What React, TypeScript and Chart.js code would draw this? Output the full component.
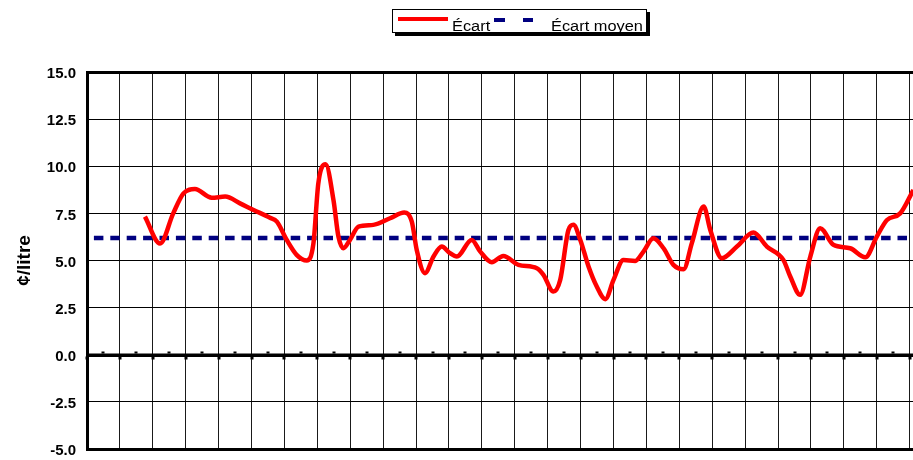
import React, { useEffect, useRef } from "react";
import { Chart, registerables } from "chart.js";

Chart.register(...registerables);

// Écart series: position along the (unlabelled) horizontal axis, in grid intervals
const ecartX = [
  1.76, 2.22, 2.62, 2.93, 3.28, 3.79, 4.2, 4.65, 5.06, 5.56, 5.77, 6.07, 6.37, 6.68,
  6.88, 7.03, 7.25, 7.49, 7.64, 7.79, 7.99, 8.25, 8.7, 9.21, 9.64, 9.87, 10.02, 10.27,
  10.53, 10.78, 11.03, 11.24, 11.69, 11.95, 12.3, 12.65, 13.11, 13.67, 13.87, 14.17,
  14.38, 14.63, 14.78, 14.99, 15.24, 15.49, 15.75, 16.0, 16.3, 16.66, 16.91, 17.21,
  17.52, 17.82, 18.13, 18.38, 18.74, 18.94, 19.29, 19.75, 20.25, 20.66, 21.16, 21.37,
  21.67, 21.98, 22.28, 22.68, 23.19, 23.65, 24.0, 24.31, 24.71, 25.11,
];
// Écart series values (¢/litre)
const ecartY = [
  7.33, 5.9, 7.5, 8.56, 8.79, 8.33, 8.39, 8.03, 7.68, 7.27, 7.06, 6.09, 5.3, 5.0,
  5.9, 9.1, 10.1, 8.2, 6.27, 5.65, 6.09, 6.8, 6.89, 7.24, 7.54, 7.06, 5.56, 4.33,
  5.21, 5.74, 5.39, 5.21, 6.09, 5.47, 4.91, 5.24, 4.77, 4.59, 4.24, 3.35,
  3.97, 6.62, 6.89, 6.09, 4.68, 3.62, 2.95, 3.97, 5.03, 4.98, 5.47, 6.18,
  5.65, 4.77, 4.54, 5.92, 7.86, 6.62, 5.12, 5.74, 6.48, 5.74, 5.03, 4.15,
  3.18, 5.21, 6.71, 5.83, 5.65, 5.17, 6.27, 7.15, 7.5, 8.74,
];
const ecartMoyen = 6.2;
const seriesLabels = ["Écart", "Écart moyen"];
const yTitle = "¢/litre";
const xGridCount = 25;
const xMax = 25.1;
const yMin = -5;
const yMax = 15;
const yStep = 2.5;

const FONT = "'Liberation Sans', Arial, Helvetica, sans-serif";

const zeroAxisPlugin = {
  id: "zeroAxis",
  beforeDatasetsDraw(chart: any) {
    const { ctx, scales, chartArea } = chart;
    const x = scales.x;
    const y = scales.y;
    const y0 = Math.round(y.getPixelForValue(0));
    ctx.save();
    ctx.fillStyle = "#000";
    ctx.fillRect(chartArea.left, y0 - 1.5, chartArea.right - chartArea.left, 3.5);
    for (let k = 0; k <= xGridCount; k++) {
      const px = Math.round(x.getPixelForValue(k));
      ctx.fillRect(px - 1.5, y0 + 1.5, 3, 3);
      const pm = Math.round(x.getPixelForValue(k + 0.5));
      if (pm < chartArea.right) ctx.fillRect(pm - 1.5, y0 - 3.5, 3, 2);
    }
    ctx.restore();
  },
};

export default function App() {
  const ref = useRef<HTMLCanvasElement | null>(null);

  useEffect(() => {
    if (!ref.current) return;
    const chart = new Chart(ref.current, {
      type: "line",
      data: {
        datasets: [
          {
            label: seriesLabels[0],
            data: ecartX.map((x, i) => ({ x, y: ecartY[i] })),
            borderColor: "#ff0000",
            borderWidth: 4.5,
            pointRadius: 0,
            cubicInterpolationMode: "monotone",
            fill: false,
          },
          {
            label: seriesLabels[1],
            data: [
              { x: 0, y: ecartMoyen },
              { x: xMax, y: ecartMoyen },
            ],
            borderColor: "#000080",
            borderWidth: 4.5,
            borderDash: [9.5, 6.9],
            borderDashOffset: 9.5,
            pointRadius: 0,
            fill: false,
          },
        ],
      },
      options: {
        animation: false,
        responsive: false,
        devicePixelRatio: 1,
        layout: { padding: { top: 72, bottom: 2, left: 0, right: 0 } },
        plugins: {
          legend: { display: false },
          tooltip: { enabled: false },
        },
        scales: {
          x: {
            type: "linear",
            min: 0,
            max: xMax,
            afterBuildTicks: (s: any) => {
              s.ticks = Array.from({ length: xGridCount + 1 }, (_, k) => ({ value: k }));
            },
            afterFit: (s: any) => {
              s.height = 0;
            },
            ticks: { display: false },
            grid: { color: "#1a1a1a", lineWidth: 1, drawTicks: false },
            border: { display: false },
          },
          y: {
            type: "linear",
            min: yMin,
            max: yMax,
            afterFit: (s: any) => {
              s.width = 87;
            },
            ticks: {
              stepSize: yStep,
              color: "#000",
              padding: 11,
              labelOffset: 2,
              font: { family: FONT, size: 15, weight: "bold" },
              callback: (v: any) => Number(v).toFixed(1),
            },
            title: {
              display: true,
              text: yTitle,
              color: "#000",
              font: { family: FONT, size: 19, weight: "bold" },
              padding: { top: 13, bottom: 0 },
            },
            grid: {
              color: "#000",
              drawTicks: false,
              lineWidth: (c: any) => {
                const v = c.tick ? c.tick.value : null;
                return v === yMax || v === yMin ? 3 : 1;
              },
            },
            border: { display: true, color: "#000", width: 3 },
          },
        },
      },
      plugins: [zeroAxisPlugin],
    } as any);
    return () => chart.destroy();
  }, []);

  const textStyle: React.CSSProperties = {
    position: "absolute",
    top: 8,
    fontFamily: FONT,
    fontSize: 14,
    lineHeight: "16px",
    color: "#000",
    whiteSpace: "nowrap",
    transform: "scaleX(1.17)",
    transformOrigin: "left center",
  };

  return (
    <div
      style={{
        position: "fixed",
        left: 0,
        top: 0,
        width: 913,
        height: 460,
        overflow: "hidden",
        background: "#fff",
      }}
    >
      <canvas ref={ref} width={913} height={469} style={{ position: "absolute", left: 0, top: 0 }} />
      <div
        style={{
          position: "absolute",
          left: 392,
          top: 9,
          width: 255,
          height: 24,
          boxSizing: "border-box",
          border: "1px solid #000",
          background: "#fff",
          boxShadow: "3px 3px 0 #000",
        }}
      >
        <div style={{ position: "absolute", left: 5, top: 7, width: 50, height: 4, background: "#ff0000" }} />
        <span style={{ ...textStyle, left: 59 }}>{seriesLabels[0]}</span>
        <div style={{ position: "absolute", left: 101, top: 8, width: 11, height: 4, background: "#000080" }} />
        <div style={{ position: "absolute", left: 130, top: 8, width: 10, height: 4, background: "#000080" }} />
        <span style={{ ...textStyle, left: 158 }}>{seriesLabels[1]}</span>
      </div>
    </div>
  );
}
